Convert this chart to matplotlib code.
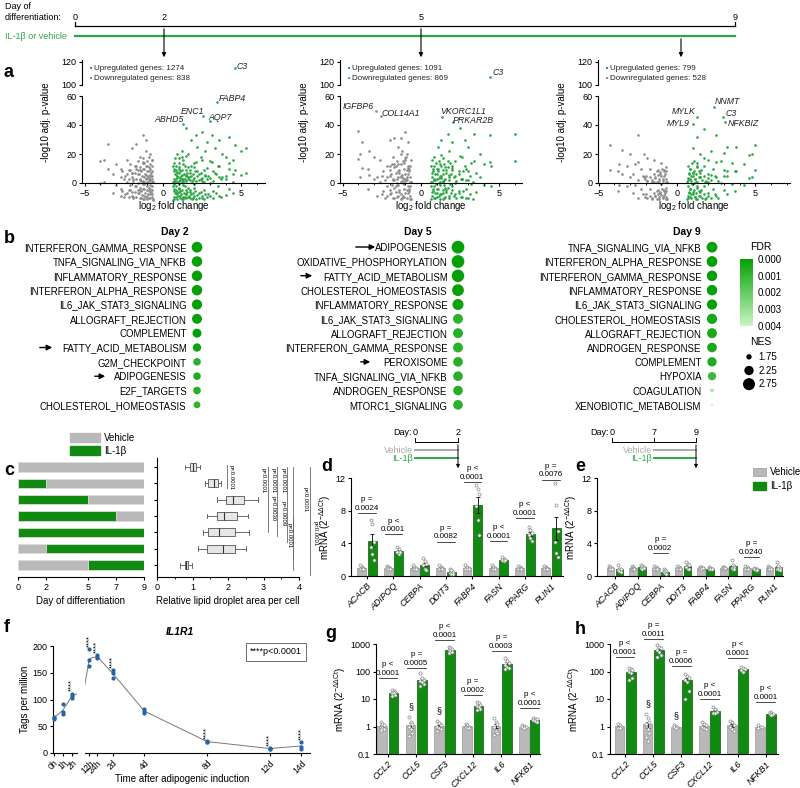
import numpy as np
import matplotlib.pyplot as plt
from matplotlib.colors import LinearSegmentedColormap, Normalize
from matplotlib.cm import ScalarMappable
from matplotlib.patches import Rectangle

plt.rcParams['font.family'] = ['Liberation Sans', 'DejaVu Sans']
plt.rcParams['font.size'] = 6.5
plt.rcParams['axes.linewidth'] = 0.8
plt.rcParams['xtick.major.width'] = 0.8
plt.rcParams['ytick.major.width'] = 0.8
plt.rcParams['xtick.major.size'] = 2.5
plt.rcParams['ytick.major.size'] = 2.5
plt.rcParams['xtick.minor.size'] = 1.5
plt.rcParams['xtick.major.pad'] = 1.5
plt.rcParams['ytick.major.pad'] = 1.5
plt.rcParams['mathtext.default'] = 'regular'

GREEN = '#118a11'
VGREEN = '#2aa845'
GRAY = '#b9b9b9'
DGRAY = '#8c8c8c'
BLUE = '#2464a8'

# ---------------- data ----------------
tl_days = ['0', '2', '5', '9']

# volcano plots (log2 FC, -log10 adj p)
v1_up_x = [1.5, 2.1, 2.5, 3.1, 3.6, 4.2, 2.8, 1.8, 2.2, 3.3, 4.6, 5.0, 5.3, 4.0, 4.5, 3.8, 2.7, 1.2, 0.9, 1.6,
           2.4, 3.0, 3.5, 4.2, 1.0, 1.4, 2.0, 0.7, 1.1, 1.7, 2.3, 2.9, 3.6, 4.5, 0.8, 1.3, 1.9, 0.7, 1.2, 2.5,
           0.9, 1.5, 0.65, 1.3, 2.0, 1.0, 0.8, 1.6, 2.6, 3.2,
           0.62, 0.7, 0.75, 0.8, 0.85, 0.9, 0.95, 1.0, 1.05, 1.1, 1.15, 1.2, 1.25, 1.3, 1.35, 1.4, 1.45, 1.5,
           1.55, 1.6, 1.65, 1.7, 1.75, 1.8, 1.85, 1.9, 2.0, 2.05, 2.1, 2.2, 2.3, 2.4, 2.5, 2.6, 2.7, 2.8, 3.0,
           3.2, 3.4, 3.7, 4.0, 0.68, 0.78, 1.0, 1.2, 0.72, 0.88, 1.08, 1.28, 1.48]
v1_up_y = [38, 33, 35, 33, 30, 32, 28, 30, 25, 24, 26, 22, 24, 18, 16, 20, 22, 22, 20, 20,
           18, 15, 12, 10, 14, 12, 11, 8, 8, 7, 6, 5, 4, 6, 3, 3, 2, 1, 1, 1.5,
           5, 5, 12, 16, 14, 10, 6, 3, 9, 8,
           0.5, 3, 6, 9, 12, 1, 4, 7, 11, 2, 5, 9, 13, 0.8, 6, 3, 9, 1.5,
           7, 11, 4, 2, 9, 5, 1, 6.5, 3.5, 8, 1.2, 4.5, 2, 7, 3.5, 0.8, 5, 2.5, 3.5,
           1.5, 6, 3, 4.5, 14, 17, 17, 18, 10, 7.5, 3.5, 1.8, 5.5]
v1_dn_x = [-3.5, -4.0, -3.8, -3.0, -2.7, -2.3, -2.0, -1.7, -1.3, -1.1, -0.8, -1.5, -2.2, -1.8, -1.0, -0.7,
           -1.3, -0.9, -1.6, -2.4, -0.7, -1.2, -1.9, -0.8, -1.4, -2.0, -0.65, -1.0, -2.7, -3.2, -1.1, -0.7,
           -1.2, -0.9, -1.5, -2.1,
           -0.62, -0.7, -0.75, -0.8, -0.85, -0.9, -0.95, -1.0, -1.05, -1.1, -1.15, -1.2, -1.25, -1.3, -1.35,
           -1.4, -1.45, -1.5, -1.55, -1.6, -1.7, -1.75, -1.8, -1.9, -2.0, -2.1, -2.2, -2.3, -2.5, -2.6, -0.68,
           -0.9, -1.3, -1.6, -0.72, -1.02, -1.22, -0.82]
v1_dn_y = [27, 15, 16, 13, 10, 16, 24, 27, 33, 30, 20, 18, 9, 12, 15, 12,
           10, 8, 6, 5, 5, 4, 3, 2, 1.5, 7, 1, 1, 4, 6, 22, 16,
           14, 11, 9, 13,
           0.5, 3, 7, 10, 13, 1.5, 5, 8.5, 12, 2.5, 6, 10, 14, 1, 4.5,
           8, 11, 2, 6, 9, 3, 12, 7, 1.5, 4, 9, 2.5, 6, 3, 8, 16,
           18, 17, 15, 8.5, 3.5, 0.8, 5.5]
v1_genes = [('C3', 4.6, 114.8, 4.7, 116, 'left'), ('FABP4', 3.45, 56, 3.55, 58, 'left'),
            ('ENC1', 2.55, 46, 1.9, 49, 'center'), ('AQP7', 3.0, 43, 3.65, 45, 'center'),
            ('ABHD5', 1.3, 41, 0.4, 44, 'center')]

v2_up_x = [1.7, 2.5, 3.4, 4.4, 6.0, 1.3, 2.8, 2.0, 3.0, 3.8, 2.6, 1.1, 1.8, 0.8, 1.4, 2.2, 3.2, 4.0, 4.5, 2.9,
           1.0, 1.6, 2.4, 3.5, 0.7, 1.2, 1.8, 2.6, 0.8, 1.4, 3.0, 0.65, 1.0, 2.0, 1.2, 0.9, 1.5, 2.2,
           0.62, 0.7, 0.78, 0.85, 0.92, 1.0, 1.08, 1.15, 1.22, 1.3, 1.38, 1.45, 1.52, 1.6, 1.7, 1.8, 1.9,
           2.0, 2.1, 2.25, 2.4, 2.55, 2.7, 2.9, 3.1, 3.3, 0.68, 0.95, 1.25, 1.55, 1.85, 0.75, 1.12, 1.42]
v2_up_y = [34, 38, 34, 33, 34, 30, 30, 28, 25, 20, 18, 25, 22, 18, 17, 15, 14, 13, 12, 10,
           10, 9, 8, 7, 7, 5, 4, 3, 2, 1, 2, 12, 3, 12, 13, 6, 2, 5,
           0.8, 4, 8, 12, 2, 6, 10, 15, 1, 5, 9, 13, 3, 7, 11, 2, 6,
           9, 4, 1.5, 6, 3, 8, 2, 5, 1, 16, 14, 19, 11, 14, 10, 3.5, 6.5]
v2_dn_x = [-4.0, -3.8, -3.9, -3.3, -3.0, -2.6, -2.2, -2.0, -1.7, -1.3, -1.0, -0.8, -1.5, -1.2, -0.9, -1.8,
           -2.4, -1.6, -1.1, -0.7, -1.4, -2.0, -0.8, -1.1, -1.7, -0.7, -2.8, -3.4, -1.3, -0.9, -1.0, -1.5,
           -0.62, -0.7, -0.78, -0.85, -0.92, -1.0, -1.08, -1.15, -1.22, -1.3, -1.38, -1.45, -1.52, -1.6,
           -1.7, -1.8, -1.9, -2.0, -2.15, -2.3, -2.5, -0.66, -0.95, -1.25, -1.55, -1.85, -0.75, -1.12]
v2_dn_y = [36, 28, 20, 22, 18, 16, 12, 30, 31, 31, 35, 28, 25, 22, 20, 18,
           8, 12, 14, 12, 7, 5, 6, 3, 2, 1, 4, 10, 1, 9, 17, 4,
           1, 4, 8, 12, 2, 6, 10, 15, 1.5, 5, 9, 13, 3, 7,
           11, 2, 6, 9, 4, 2, 5, 16, 18, 20, 15, 13, 10, 3.5]
v2_genes = [('C3', 4.4, 107, 4.55, 111, 'left'), ('VKORC1L1', 1.35, 45.5, 2.7, 49, 'center'),
            ('PRKAR2B', 2.05, 42, 3.35, 43, 'center'), ('IGFBP6', -2.9, 50, -4.0, 53, 'center'),
            ('COL14A1', -2.55, 46, -1.3, 47.6, 'center')]

v3_up_x = [2.5, 1.7, 1.3, 3.2, 3.8, 5.0, 4.8, 4.6, 3.0, 2.2, 1.0, 1.5, 2.0, 2.8, 3.5, 4.3, 1.1, 1.7, 2.3, 3.0,
           3.7, 0.8, 1.4, 2.0, 0.9, 1.5, 2.5, 0.7, 1.2, 1.8, 3.2, 1.0, 0.8, 1.3,
           0.62, 0.7, 0.78, 0.85, 0.92, 1.0, 1.08, 1.15, 1.22, 1.3, 1.4, 1.5, 1.6, 1.7, 1.85, 2.0, 2.2,
           2.4, 2.6, 0.68, 0.95, 1.25, 1.55, 0.75, 1.12]
v3_up_y = [33, 37, 32, 25, 25, 26, 20, 19, 21, 22, 24, 20, 16, 15, 14, 13, 15, 12, 10, 9,
           8, 10, 8, 6, 5, 4, 4, 2, 1, 1, 5, 7, 3, 12,
           0.8, 3.5, 7, 10, 1.5, 5, 8.5, 2.5, 6, 1, 4, 7, 2, 5, 1.5, 3.5, 2,
           5, 1.5, 12, 14, 11, 9, 6, 3]
v3_dn_x = [-4.3, -2.5, -3.5, -3.0, -2.1, -1.9, -1.5, -1.0, -3.7, -3.2, -2.7, -2.3, -1.7, -1.2, -0.8, -3.8,
           -2.8, -2.0, -1.4, -0.9, -0.7, -1.6, -2.5, -1.1, -0.7,
           -0.62, -0.7, -0.78, -0.85, -0.92, -1.0, -1.08, -1.15, -1.22, -1.3, -1.4, -1.5, -1.6, -1.75,
           -1.9, -2.05, -2.2, -0.68, -0.95, -1.25, -0.8, -1.12]
v3_dn_y = [26, 33, 23, 20, 20, 17, 16, 14, 13, 12, 13, 10, 10, 9, 8, 8,
           6, 5, 4, 3, 1, 1, 2, 6, 11,
           0.8, 3, 6, 9, 1.5, 4.5, 7.5, 2.5, 5.5, 1, 3.5, 6, 2, 4,
           1.5, 3, 5, 8, 10, 8, 4.5, 1.2]
v3_genes = [('NNMT', 2.37, 52.4, 3.2, 56, 'center'), ('MYLK', 1.28, 45.5, 0.45, 49.6, 'center'),
            ('MYL9', 1.0, 41, 0.1, 41, 'center'), ('C3', 2.95, 45.5, 3.45, 47.6, 'center'),
            ('NFKBIZ', 3.07, 42, 4.25, 40.7, 'center')]

# GSEA hallmark dot plots
d2_names = ['INTERFERON_GAMMA_RESPONSE', 'TNFA_SIGNALING_VIA_NFKB', 'INFLAMMATORY_RESPONSE',
            'INTERFERON_ALPHA_RESPONSE', 'IL6_JAK_STAT3_SIGNALING', 'ALLOGRAFT_REJECTION', 'COMPLEMENT',
            'FATTY_ACID_METABOLISM', 'G2M_CHECKPOINT', 'ADIPOGENESIS', 'E2F_TARGETS', 'CHOLESTEROL_HOMEOSTASIS']
d2_nes = [2.5, 2.45, 2.45, 2.45, 2.4, 2.35, 2.2, 2.1, 2.0, 2.0, 2.0, 1.9]
d2_fdr = [0, 0, 0, 0, 0, 0, 0, 0.0002, 0.0008, 0.0005, 0.0007, 0.0009]
d5_names = ['ADIPOGENESIS', 'OXIDATIVE_PHOSPHORYLATION', 'FATTY_ACID_METABOLISM', 'CHOLESTEROL_HOMEOSTASIS',
            'INFLAMMATORY_RESPONSE', 'IL6_JAK_STAT3_SIGNALING', 'ALLOGRAFT_REJECTION', 'INTERFERON_GAMMA_RESPONSE',
            'PEROXISOME', 'TNFA_SIGNALING_VIA_NFKB', 'ANDROGEN_RESPONSE', 'MTORC1_SIGNALING']
d5_nes = [2.9, 2.9, 2.85, 2.7, 2.55, 2.35, 2.35, 2.35, 2.3, 2.3, 2.3, 2.3]
d5_fdr = [0, 0, 0, 0, 0.0001, 0.0008, 0.0007, 0.0008, 0.0007, 0.0007, 0.0007, 0.0008]
d9_names = ['TNFA_SIGNALING_VIA_NFKB', 'INTERFERON_ALPHA_RESPONSE', 'INTERFERON_GAMMA_RESPONSE',
            'INFLAMMATORY_RESPONSE', 'IL6_JAK_STAT3_SIGNALING', 'CHOLESTEROL_HOMEOSTASIS', 'ALLOGRAFT_REJECTION',
            'ANDROGEN_RESPONSE', 'COMPLEMENT', 'HYPOXIA', 'COAGULATION', 'XENOBIOTIC_METABOLISM']
d9_nes = [2.5, 2.5, 2.45, 2.45, 2.4, 2.4, 2.35, 2.3, 2.25, 2.1, 1.62, 1.55]
d9_fdr = [0, 0, 0, 0, 0, 0.0003, 0.0004, 0.0004, 0.0005, 0.0012, 0.0033, 0.004]
nes_legend = [1.75, 2.25, 2.75]
fdr_ticks = [0.000, 0.001, 0.002, 0.003, 0.004]

# panel c: treatment windows and lipid droplet area
il_left = [0, 0, 0, 0, 0, 2, 5]
il_width = [0, 2, 5, 7, 9, 7, 4]
veh_left = [0, 2, 5, 7, 9, 0, 0]
veh_width = [9, 7, 4, 2, 0, 2, 5]
lip_med = [1.0, 1.6, 2.15, 1.9, 1.75, 1.85, 0.82]
lip_q1 = [0.93, 1.45, 1.95, 1.7, 1.45, 1.4, 0.78]
lip_q3 = [1.1, 1.72, 2.45, 2.25, 2.2, 2.2, 0.88]
lip_lo = [0.8, 1.35, 1.7, 1.4, 1.3, 1.15, 0.65]
lip_hi = [1.22, 1.8, 2.85, 2.55, 2.6, 2.5, 0.98]
c_lines = [(1.97, -0.1, 1.3), (3.12, 0, 4.0), (3.37, 0, 4.2), (3.65, 0, 4.6), (3.82, 0, 5.6),
           (3.82, 3.1, 6.3), (4.3, 0, 6.6)]
c_texts = [(2.1, -0.1, 'p<0.0001'), (3.0, 0.05, 'p<0.0001'), (3.27, 1.8, 'p=0.0030'), (3.27, 0.05, 'p<0.0001'),
           (3.55, 2.1, 'p=0.0009'), (3.55, 0.05, 'p<0.0001'), (3.72, 3.4, 'p<0.0001'), (4.17, 1.2, 'p<0.0001'),
           (4.45, 3.3, 'p<0.0001')]

# panels d, e: adipogenic genes
de_genes = ['ACACB', 'ADIPOQ', 'CEBPA', 'DDIT3', 'FABP4', 'FASN', 'PPARG', 'PLIN1']
d_veh = [[1.3, 1.1, 1.0, 0.9, 0.8, 0.9], [1.2, 1.05, 1.0, 0.95, 0.9, 0.9], [1.3, 1.1, 1.0, 0.9, 0.8, 0.9],
         [1.3, 1.1, 1.0, 0.9, 0.8, 0.9], [1.3, 1.1, 1.0, 0.9, 0.8, 0.9], [1.3, 1.1, 1.0, 0.9, 0.8, 0.9],
         [1.2, 1.1, 1.0, 0.9, 0.9, 0.9], [1.2, 1.1, 1.0, 0.9, 0.9, 0.9]]
d_il = [[6.9, 6.4, 4.2, 3.6, 2.7, 2.0], [3.6, 3.3, 3.0, 2.9, 2.7, 2.9], [2.2, 1.8, 1.5, 1.3, 0.9, 0.7],
        [0.9, 0.7, 0.5, 0.4, 0.3, 0.3], [11.2, 10.7, 10.0, 8.6, 6.8, 5.0], [2.3, 2.1, 2.0, 1.9, 1.8, 1.9],
        [6.0, 5.6, 5.3, 5.0, 4.6, 4.3], [11.4, 8.7, 5.5, 4.2, 2.8, 2.3]]
d_p = {0: ('p =', '0.0024', 7.7), 1: ('p <', '0.0001', 5.1), 3: ('p =', '0.0082', 4.2),
       4: ('p <', '0.0001', 11.5), 5: ('p <', '0.0001', 4.3), 6: ('p <', '0.0001', 7.1),
       7: ('p =', '0.0076', 11.8)}
e_veh = [[1.2, 1.1, 1.0, 0.9, 0.8, 0.9], [1.2, 1.1, 1.0, 0.9, 0.9, 0.9], [1.2, 1.1, 1.0, 0.9, 0.9, 0.9],
         [1.2, 1.1, 1.0, 0.9, 0.9, 0.9], [1.1, 1.05, 1.0, 0.95, 0.9, 1.0], [1.1, 1.05, 1.0, 0.95, 0.9, 1.0],
         [1.2, 1.1, 1.0, 0.9, 0.9, 0.9], [1.2, 1.1, 1.0, 0.9, 0.9, 0.9]]
e_il = [[1.3, 0.9, 0.8, 0.7, 0.6, 0.5], [1.4, 1.2, 1.1, 1.0, 0.9, 1.0], [0.8, 0.7, 0.6, 0.5, 0.4, 0.3],
        [1.7, 1.5, 1.3, 1.1, 0.9, 0.8], [1.1, 1.0, 0.9, 0.9, 0.8, 0.8], [1.9, 1.3, 1.1, 1.0, 0.9, 0.9],
        [1.0, 0.9, 0.85, 0.8, 0.75, 0.7], [1.7, 1.2, 1.0, 0.9, 0.8, 0.7]]
e_p = {2: ('p =', '0.0002', 2.8), 6: ('p =', '0.0240', 2.3)}

# panel f: IL1R1 time course
f_hours = [0, 1, 2]
f_h_vals = [[68, 65, 63], [92, 77, 72], [111, 106, 103]]
f_days = [0.5, 1, 2, 4, 8, 12, 14]
f_d_vals = [[194, 174, 162], [183, 180, 178], [155, 150, 140], [83, 78, 74], [23, 21, 20], [10, 8, 7], [20, 12, 8]]
f_h_lab = ['0h', '1h', '2h']
f_d_lab = ['12h', '24h', '2d', '4d', '8d', '12d', '14d']
f_h_star = [False, False, True]
f_d_star = [True, True, True, False, True, True, True]

# panels g, h: inflammatory genes
gh_genes = ['CCL2', 'CCL5', 'CSF3', 'CXCL12', 'IL6', 'NFKB1']
g_veh = [[1.4, 1.2, 1.1, 1.0, 0.9, 0.8, 0.75], [2.2, 1.4, 1.2, 1.0, 0.8, 0.6, 0.45],
         [1.6, 1.3, 1.1, 1.0, 0.9, 0.8, 0.7], [1.2, 1.1, 1.0, 1.0, 0.9, 0.9],
         [2.0, 1.5, 1.2, 1.0, 0.7, 0.6, 0.5], [1.1, 1.05, 1.0, 0.95, 0.9]]
g_il = [[22, 20, 18, 17, 16, 14, 13], [90, 60, 50, 45, 40, 35, 30], [750, 700, 650, 600, 550, 500, 480],
        [8, 7, 6, 5.5, 5, 4.5, 4], [300, 250, 200, 170, 150, 130, 120], [2.0, 1.9, 1.8, 1.7, 1.6, 1.5]]
g_p = {0: ('p <', '0.0001', 58), 1: ('p =', '0.0005', 135), 2: ('p <', '0.0001', 1400),
       3: ('p =', '0.0002', 14), 4: ('p =', '0.0003', 560), 5: ('p <', '0.0001', 4.7)}
h_veh = [[1.2, 1.1, 1.0, 0.9, 0.85], [2.8, 2.0, 1.5, 1.2, 0.8, 0.6, 0.4, 0.3], [1.1, 1.0, 1.0, 0.95, 0.9],
         [1.4, 1.2, 1.1, 1.0, 0.9, 0.8], [1.6, 1.4, 1.1, 1.0, 0.8, 0.7], [1.1, 1.0, 1.0, 0.9]]
h_il = [[130, 120, 110, 100, 90, 60, 50], [900, 800, 700, 600, 500, 400, 350], [80, 70, 60, 50, 40, 20, 10],
        [5, 4.2, 3.5, 3.2, 3.0], [150, 130, 120, 110, 100], [3.4, 3.0, 2.9, 2.8, 2.6]]
h_p = {0: ('p <', '0.0001', 330), 1: ('p =', '0.0011', 1540), 2: ('p =', '0.0006', 155),
       3: ('p <', '0.0001', 10), 4: ('p <', '0.0001', 300), 5: ('p <', '0.0001', 7.8)}
gh_sect = [1, 2]

# ---------------- figure ----------------
W, H = 800, 788
fig = plt.figure(figsize=(8, 7.88), dpi=100)


def axp(l, t, r, b):
    return fig.add_axes([l / W, 1 - b / H, (r - l) / W, (b - t) / H])


ov = axp(0, 0, W, H)
ov.set_xlim(0, W)
ov.set_ylim(H, 0)
ov.axis('off')
ov.set_zorder(20)

for let, (lx, ly) in {'a': (4, 72), 'b': (4, 238), 'c': (4, 470), 'd': (321, 466), 'e': (575, 466),
                      'f': (4, 628), 'g': (325, 634), 'h': (575, 630)}.items():
    ov.text(lx, ly, let, fontsize=13, fontweight='bold', va='center', ha='left')

# top timeline
tl_px = [75, 164, 421, 735]
ov.plot([tl_px[0], tl_px[-1]], [26, 26], color='k', lw=0.9)
for px, d in zip(tl_px, tl_days):
    ov.text(px, 17, d, ha='center', va='center', fontsize=6.5)
for px in (tl_px[0], tl_px[-1]):
    ov.plot([px, px], [22, 26], color='k', lw=0.9)
ov.text(5, 6, 'Day of', fontsize=6.5, va='center')
ov.text(5, 17, 'differentiation:', fontsize=6.5, va='center')
ov.plot([tl_px[0], tl_px[-1]], [36, 36], color=VGREEN, lw=1.6)
ov.text(5, 36, 'IL-1β or vehicle', color=VGREEN, fontsize=6.5, va='center')
for ax0, ay0 in ((164, 26), (421, 26), (681, 36)):
    ov.annotate('', xy=(ax0, 60), xytext=(ax0, ay0),
                arrowprops=dict(arrowstyle='-|>', lw=0.8, color='k', mutation_scale=6))


# ---------------- a: volcano plots ----------------
def volcano(l, r, x0, ux, uy, dx, dy, genes, n_up, n_dn):
    ppu = 15.65
    xl = ((l - x0) / ppu, (r - x0) / ppu)
    top = axp(l, 60, r, 85)
    bot = axp(l, 96, r, 183)
    for ax in (top, bot):
        ax.set_xlim(*xl)
        ax.spines[['top', 'right']].set_visible(False)
        ax.scatter(ux, uy, s=3.6, c=VGREEN, lw=0, clip_on=False)
        ax.scatter(dx, dy, s=3.6, c=DGRAY, lw=0, clip_on=False)
        ax.patch.set_visible(False)
    top.set_ylim(100, 121.7)
    top.set_yticks([100, 120])
    top.spines['bottom'].set_visible(False)
    top.set_xticks([])
    bot.set_ylim(0, 60)
    bot.set_yticks([0, 20, 40, 60])
    bot.set_xticks([-5, 0, 5])
    bot.set_xticks(np.arange(-5, int(xl[1]) + 1), minor=True)
    for name, gx, gy, tx, ty, ha in genes:
        ax = top if gy > 90 else bot
        ax.scatter([gx], [gy], s=3.6, c=VGREEN if gx > 0 else DGRAY, lw=0)
        ax.text(tx, ty, name, fontsize=6.3, style='italic', ha=ha, va='center', color='#222222')
    bot.set_xlabel('log$_2$ fold change', fontsize=7, labelpad=1)
    ov.text(l - 36, 122, '-log10 adj. p-value', rotation=90, fontsize=7, ha='center', va='center')
    for k, (col, txt) in enumerate(((VGREEN, 'Upregulated genes: %d' % n_up),
                                     (DGRAY, 'Downregulated genes: %d' % n_dn))):
        ov.plot([l + 9], [68 + 10 * k], 's', ms=1.8, color=col, mew=0)
        ov.text(l + 12, 68 + 10 * k, txt, fontsize=5.8, va='center', color='#222222')


volcano(82, 265, 163, v1_up_x, v1_up_y, v1_dn_x, v1_dn_y, v1_genes, 1274, 838)
volcano(340, 522, 421, v2_up_x, v2_up_y, v2_dn_x, v2_dn_y, v2_genes, 1091, 869)
volcano(598, 790, 677, v3_up_x, v3_up_y, v3_dn_x, v3_dn_y, v3_genes, 799, 528)

# ---------------- b: GSEA dot plots ----------------
cmap = LinearSegmentedColormap.from_list('fdr', ['#05a005', '#c9f5c2'])
norm = Normalize(0, 0.004)


def nes_size(n):
    return 60 * (np.asarray(n) - 1.5)


def gsea(xc, names, nes, fdr, title, title_px):
    ax = axp(xc - 7, 240, xc + 7, 412)
    ax.scatter(np.zeros(len(names)), np.arange(len(names)), s=nes_size(nes), c=fdr, cmap=cmap, norm=norm,
               lw=0, clip_on=False)
    ax.set_ylim(len(names) - 0.5, -0.5)
    ax.set_xlim(-1, 1)
    ax.set_yticks(range(len(names)), names, fontsize=6.95)
    ax.tick_params(length=0, pad=2.5)
    ax.set_xticks([])
    for s in ax.spines.values():
        s.set_visible(False)
    ax.patch.set_visible(False)
    ov.text(title_px, 232, title, fontsize=7.5, fontweight='bold', ha='center', va='center')


gsea(197, d2_names, d2_nes, d2_fdr, 'Day 2', 175)
gsea(458, d5_names, d5_nes, d5_fdr, 'Day 5', 418)
gsea(712, d9_names, d9_nes, d9_fdr, 'Day 9', 687)


def row_y(i):
    return 247 + 14.36 * i


for x1, x2, row in ((37, 55, 7), (92, 108, 9), (353, 378, 0), (298, 315, 2), (358, 373, 8)):
    ov.annotate('', xy=(x2, row_y(row)), xytext=(x1, row_y(row)),
                arrowprops=dict(arrowstyle='-|>', lw=1.0, color='k', mutation_scale=8))

cax = axp(740, 259, 753, 326)
cb = fig.colorbar(ScalarMappable(norm=norm, cmap=cmap), cax=cax)
cax.invert_yaxis()
cb.set_ticks(fdr_ticks)
cb.set_ticklabels(['%.3f' % t for t in fdr_ticks])
cb.outline.set_visible(False)
cax.tick_params(labelsize=7, length=2, width=0.6, pad=1, color='white')
ov.text(750, 247, 'FDR', fontsize=7.5, va='center')

nax = axp(742, 350, 756, 391)
nax.scatter(np.zeros(3), nes_legend, s=nes_size(nes_legend), c='k', lw=0)
nax.set_ylim(3.0, 1.5)
nax.set_xlim(-1, 1)
nax.axis('off')
for n in nes_legend:
    nax.text(1.3, n, '%.2f' % n, fontsize=7, va='center')
ov.text(750, 342, 'NES', fontsize=7.5, va='center')

# ---------------- c ----------------
axc = axp(18, 458, 144, 577)
axc.barh(range(7), veh_width, left=veh_left, height=0.58, color=GRAY, edgecolor='#dddddd', lw=0.6)
axc.barh(range(7), il_width, left=il_left, height=0.58, color=GREEN, edgecolor='#dddddd', lw=0.6)
axc.set_ylim(6.73, -0.55)
axc.set_xlim(0, 9)
axc.set_xticks([0, 2, 5, 7, 9])
axc.set_yticks([])
axc.spines[['top', 'right', 'left']].set_visible(False)
axc.set_xlabel('Day of differentiation', fontsize=7, labelpad=3)
ov.add_patch(Rectangle((70, 433), 30, 9, color=GRAY))
ov.add_patch(Rectangle((70, 446), 30, 9, color=GREEN))
ov.text(104, 438, 'Vehicle', fontsize=7, va='center')
ov.text(104, 451, 'IL-1β', fontsize=7, va='center')

axb = axp(157, 458, 299, 577)
stats = [dict(med=m, q1=a, q3=b, whislo=lo, whishi=hi, fliers=[])
         for m, a, b, lo, hi in zip(lip_med, lip_q1, lip_q3, lip_lo, lip_hi)]
axb.bxp(stats, positions=range(7), vert=False, widths=0.5, patch_artist=True, showfliers=False,
        boxprops=dict(facecolor='#e6e6e6', edgecolor='#555555', lw=0.6),
        medianprops=dict(color='#333333', lw=0.8), whiskerprops=dict(color='#555555', lw=0.6),
        capprops=dict(color='#555555', lw=0.6), capwidths=0.3)
axb.set_ylim(6.73, -0.55)
axb.set_xlim(0, 4)
axb.set_xticks([0, 1, 2, 3, 4])
axb.set_xticks(np.arange(0, 4, 0.5), minor=True)
axb.set_yticks(range(7), [''] * 7)
axb.spines[['top', 'right']].set_visible(False)
axb.set_xlabel('Relative lipid droplet area per cell', fontsize=7, labelpad=3)
for xp, r0, r1 in c_lines:
    axb.plot([xp, xp], [r0, r1], color='#666666', lw=0.6, clip_on=False)
for xp, r0, tx in c_texts:
    axb.text(xp, r0, tx, rotation=-90, fontsize=4.3, ha='center', va='top', clip_on=False)


# ---------------- bar panels ----------------
def barpanel(ax, genes, veh, il, pmap, log=False):
    for i in range(len(genes)):
        for pts, off, col, ec in ((veh[i], -0.2, GRAY, '#999999'), (il[i], 0.2, GREEN, '#0a5a0a')):
            pts = np.asarray(pts, float)
            m = pts.mean()
            se = pts.std(ddof=1) / np.sqrt(len(pts))
            base = 0.1 if log else 0
            ax.bar(i + off, m - base, bottom=base, width=0.34, color=col, edgecolor=ec, lw=0.5, zorder=2)
            ax.errorbar(i + off, m, yerr=se, color='k', lw=0.6, capsize=1.3, capthick=0.6, zorder=3)
            jit = (np.arange(len(pts)) % 3 - 1) * 0.06
            ax.scatter(i + off + jit, pts, s=5, facecolor='white', edgecolor='#888888', lw=0.5, zorder=4,
                       clip_on=False)
        if i in pmap:
            t1, t2, ly = pmap[i]
            ax.plot([i - 0.33, i + 0.33], [ly, ly], color='k', lw=0.5, clip_on=False)
            if log:
                ax.text(i, ly * 1.1, t2, ha='center', va='bottom', fontsize=5.8, clip_on=False)
                ax.text(i, ly * 2.35, t1, ha='center', va='bottom', fontsize=5.8, clip_on=False)
            else:
                ax.text(i, ly + 0.15, t2, ha='center', va='bottom', fontsize=5.8, clip_on=False)
                ax.text(i, ly + 1.2, t1, ha='center', va='bottom', fontsize=5.8, clip_on=False)
    ax.set_xticks(range(len(genes)))
    ax.set_xticklabels(genes, rotation=45, ha='right', rotation_mode='anchor', style='italic', fontsize=6.4)
    ax.spines[['top', 'right']].set_visible(False)
    ax.patch.set_visible(False)
    ax.set_ylabel('mRNA (2$^{-ΔΔCt}$)', fontsize=7, labelpad=2)


axd = axp(351, 478, 563, 576)
barpanel(axd, de_genes, d_veh, d_il, d_p)
axd.set_ylim(0, 12)
axd.set_yticks([0, 4, 8, 12])
axd.set_xlim(-0.61, 7.45)

axe = axp(597, 478, 783, 576)
barpanel(axe, de_genes, e_veh, e_il, e_p)
axe.set_ylim(0, 12)
axe.set_yticks([0, 4, 8, 12])
axe.set_xlim(-0.79, 7.4)
ov.add_patch(Rectangle((753, 468), 13, 8, color=GRAY, ec='#999999', lw=0.5))
ov.add_patch(Rectangle((753, 482), 13, 8, color=GREEN))
ov.text(770, 472, 'Vehicle', fontsize=7, va='center')
ov.text(770, 486, 'IL-1β', fontsize=7, va='center')

# inset timelines d / e
for days, pxs in ((['0', '2'], [415, 458]), (['0', '7', '9'], [612, 654, 696])):
    ov.text(pxs[0] - 3, 432, 'Day:', fontsize=6.5, ha='right', va='center')
    for d, px in zip(days, pxs):
        ov.text(px, 432, d, fontsize=6.5, ha='center', va='center')
        ov.plot([px, px], [438, 442], color='k', lw=0.7)
    ov.plot([pxs[0], pxs[-1]], [442, 442], color='k', lw=0.7)
    ov.plot([pxs[-2], pxs[-1]], [450, 450], color='#aaaaaa', lw=1.4)
    ov.plot([pxs[-2], pxs[-1]], [458, 458], color=VGREEN, lw=1.4)
    ov.text(pxs[-2] - 2, 450, 'Vehicle', color='#aaaaaa', fontsize=6.5, ha='right', va='center')
    ov.text(pxs[-2] - 2, 458, 'IL-1β', color=VGREEN, fontsize=6.5, ha='right', va='center')
    ov.annotate('', xy=(pxs[-1], 471), xytext=(pxs[-1], 442),
                arrowprops=dict(arrowstyle='-|>', lw=0.7, color='k', mutation_scale=5))

for veh, il, pl, l, r, xl in ((g_veh, g_il, g_p, 376, 540, (-0.42, 5.37)),
                              (h_veh, h_il, h_p, 610, 778, (-0.54, 5.44))):
    ax = axp(l, 644, r, 754)
    ax.set_yscale('log')
    barpanel(ax, gh_genes, veh, il, pl, log=True)
    ax.set_ylim(0.1, 1000)
    ax.set_yticks([0.1, 1, 10, 100, 1000], ['0.1', '1', '10', '100', '1000'])
    ax.minorticks_off()
    ax.set_xlim(*xl)
    for i in gh_sect:
        ax.text(i - 0.2, max(veh[i]) * 1.6, '§', ha='center', va='bottom', fontsize=6.5)

# ---------------- f ----------------
f1 = axp(53, 646, 77, 753)
f2 = axp(85, 646, 310, 753)
h_mean = [np.mean(v) for v in f_h_vals]
d_mean = [np.mean(v) for v in f_d_vals]
all_h = list(f_hours) + [d * 24 for d in f_days]
all_d = [h / 24 for h in f_hours] + list(f_days)
for ax, xs, pts_x, vals, stars, labs in ((f1, all_h, f_hours, f_h_vals, f_h_star, f_h_lab),
                                         (f2, all_d, f_days, f_d_vals, f_d_star, f_d_lab)):
    ax.plot(xs, h_mean + d_mean, color='#777777', lw=0.7)
    for x, v, st in zip(pts_x, vals, stars):
        ax.scatter([x] * len(v), v, s=9, color=BLUE, lw=0, zorder=3, clip_on=False)
        if st:
            ax.text(x, max(v) + 4, '****', rotation=90, ha='center', va='bottom', fontsize=5.5)
    ax.set_xticks(pts_x)
    ax.set_xticklabels(labs, rotation=45, ha='right', rotation_mode='anchor', fontsize=6.2)
    ax.set_ylim(0, 200)
    ax.spines[['top', 'right']].set_visible(False)
    ax.patch.set_visible(False)
f1.set_xlim(-0.1, 2.55)
f2.set_xlim(0.22, 14.55)
f1.set_yticks([0, 50, 100, 150, 200])
f2.set_yticks([])
f2.spines['left'].set_visible(False)
f1.set_ylabel('Tags per million', fontsize=7, labelpad=2)
ov.text(180, 632, 'IL1R1', fontsize=7.5, fontweight='bold', style='italic', ha='center', va='center')
ov.text(182, 779, 'Time after adipogenic induction', fontsize=7, ha='center', va='center')
ov.text(276, 652, '****p<0.0001', fontsize=6.5, ha='center', va='center',
        bbox=dict(boxstyle='square,pad=0.5', fc='white', ec='#555555', lw=0.6))

fig.savefig('out.png', dpi=100)
